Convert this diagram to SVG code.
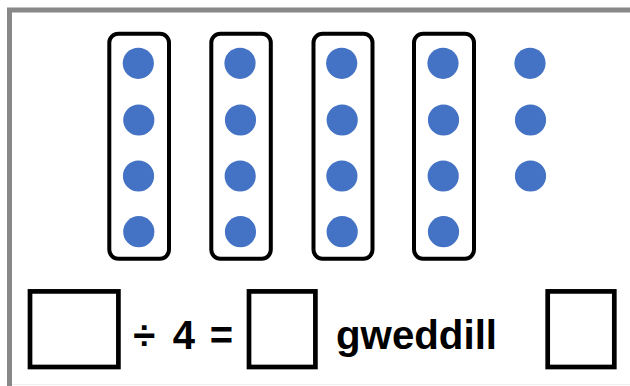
<svg xmlns="http://www.w3.org/2000/svg" width="630" height="386" viewBox="0 0 630 386">
<style>
.grp{fill:none;stroke:#000;stroke-width:4}
.dot{fill:#4472C4}
.box{fill:#fff;stroke:#000;stroke-width:4.7}
.t{font-family:"Liberation Sans",Arial,sans-serif;font-weight:bold;font-size:40px;fill:#000}
</style>
<rect width="630" height="386" fill="#fff"/>
<rect id="frame" x="9.5" y="10" width="640" height="400" fill="none" stroke="#888" stroke-width="5"/>
<line x1="12" y1="384.5" x2="630" y2="384.5" stroke="#eee" stroke-width="1"/>
<g id="group1">
<rect class="grp" x="109.3" y="33.7" width="59.7" height="225" rx="9"/>
<circle class="dot" cx="138.3" cy="63.3" r="15.6"/>
<circle class="dot" cx="138.8" cy="120" r="15.6"/>
<circle class="dot" cx="138.5" cy="176" r="15.6"/>
<circle class="dot" cx="138.8" cy="231.7" r="15.6"/>
</g>
<g id="group2">
<rect class="grp" x="211.3" y="33.7" width="59.5" height="225" rx="9"/>
<circle class="dot" cx="240" cy="63.3" r="15.6"/>
<circle class="dot" cx="240.5" cy="120" r="15.6"/>
<circle class="dot" cx="240.2" cy="176" r="15.6"/>
<circle class="dot" cx="240.5" cy="231.7" r="15.6"/>
</g>
<g id="group3">
<rect class="grp" x="313.5" y="33.7" width="59" height="225" rx="9"/>
<circle class="dot" cx="341.7" cy="63.3" r="15.6"/>
<circle class="dot" cx="342.2" cy="120" r="15.6"/>
<circle class="dot" cx="341.9" cy="176" r="15.6"/>
<circle class="dot" cx="342.2" cy="231.7" r="15.6"/>
</g>
<g id="group4">
<rect class="grp" x="414" y="33.7" width="60" height="225" rx="9"/>
<circle class="dot" cx="443" cy="63.3" r="15.6"/>
<circle class="dot" cx="443.5" cy="120" r="15.6"/>
<circle class="dot" cx="443.2" cy="176" r="15.6"/>
<circle class="dot" cx="443.5" cy="231.7" r="15.6"/>
</g>
<g id="remainder">
<circle class="dot" cx="530" cy="63.3" r="15.6"/>
<circle class="dot" cx="530.5" cy="120" r="15.6"/>
<circle class="dot" cx="530.5" cy="176" r="15.6"/>
</g>
<g id="box1"><rect class="box" x="30" y="291.4" width="88.4" height="75.6"/></g>
<g id="equation">
<text class="t" x="144.3" y="349.3" text-anchor="middle">÷</text>
<text class="t" x="183.8" y="349.3" text-anchor="middle">4</text>
<text class="t" x="221.5" y="349.3" text-anchor="middle">=</text>
</g>
<g id="box2"><rect class="box" x="249" y="291.4" width="66.4" height="75.6"/></g>
<g id="label"><text class="t" x="336" y="349" textLength="161" lengthAdjust="spacingAndGlyphs">gweddill</text></g>
<g id="box3"><rect class="box" x="547.7" y="291.4" width="66.6" height="75.6"/></g>
</svg>
